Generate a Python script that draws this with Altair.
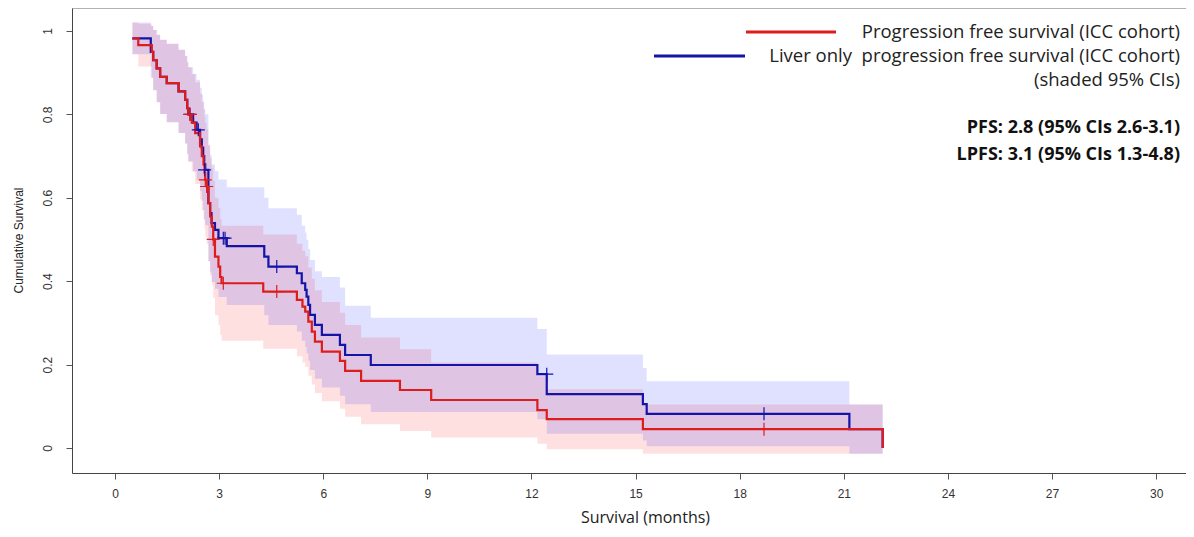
import altair as alt
import pandas as pd

# ---------------- data ----------------
# Progression free survival (red)
red_t = [0.50, 0.67, 1.06, 1.10, 1.20, 1.30, 1.49, 1.83, 2.02, 2.08, 2.11, 2.21, 2.31, 2.45, 2.50,
         2.55, 2.58, 2.60, 2.64, 2.69, 2.74, 2.79, 2.83, 2.88, 2.98, 3.03, 3.07, 4.27, 5.24, 5.40,
         5.48, 5.57, 5.67, 5.76, 5.96, 6.48, 6.63, 7.09, 8.21, 9.11, 12.17, 12.44, 15.21, 22.12]
red_s = [0.982, 0.966, 0.950, 0.930, 0.910, 0.890, 0.875, 0.855, 0.835, 0.815, 0.800, 0.780, 0.755,
         0.723, 0.700, 0.680, 0.660, 0.643, 0.627, 0.587, 0.555, 0.531, 0.500, 0.459, 0.435, 0.410,
         0.395, 0.375, 0.355, 0.339, 0.327, 0.303, 0.279, 0.255, 0.231, 0.209, 0.185, 0.161, 0.139,
         0.115, 0.091, 0.069, 0.045, 0.045]
red_lo = [0.944, 0.915, 0.888, 0.858, 0.829, 0.801, 0.781, 0.755, 0.730, 0.705, 0.687, 0.663, 0.633,
          0.596, 0.570, 0.548, 0.526, 0.507, 0.490, 0.448, 0.415, 0.390, 0.359, 0.318, 0.295, 0.271,
          0.257, 0.238, 0.220, 0.205, 0.194, 0.173, 0.152, 0.132, 0.112, 0.094, 0.075, 0.057, 0.041,
          0.025, 0.010, -0.003, -0.014, -0.014]
red_hi = [1.020, 1.017, 1.012, 1.002, 0.991, 0.979, 0.969, 0.955, 0.940, 0.925, 0.913, 0.897, 0.877,
          0.850, 0.830, 0.812, 0.794, 0.779, 0.764, 0.726, 0.695, 0.672, 0.641, 0.600, 0.575, 0.549,
          0.533, 0.512, 0.490, 0.473, 0.460, 0.433, 0.406, 0.378, 0.350, 0.324, 0.295, 0.265, 0.237,
          0.205, 0.172, 0.141, 0.104, 0.104]
red_end_t = 22.12
red_end_s = 0.0
red_cens_t = [2.16, 2.60, 2.64, 2.83, 3.12, 4.66, 18.70]
red_cens_s = [0.800, 0.643, 0.627, 0.500, 0.395, 0.375, 0.045]

# Liver only progression free survival (blue)
blue_t = [0.50, 1.03, 1.10, 1.20, 1.30, 1.49, 1.83, 2.02, 2.08, 2.11, 2.25, 2.35, 2.45, 2.50, 2.54,
          2.57, 2.60, 2.69, 2.74, 2.78, 2.88, 2.98, 3.22, 4.30, 4.42, 5.24, 5.38, 5.48, 5.52, 5.57,
          5.62, 5.76, 5.96, 6.48, 6.63, 7.37, 12.17, 12.44, 15.21, 15.32, 21.16, 22.12]
blue_s = [0.982, 0.950, 0.930, 0.910, 0.890, 0.875, 0.855, 0.835, 0.815, 0.800, 0.780, 0.763, 0.740,
          0.720, 0.700, 0.680, 0.667, 0.587, 0.563, 0.539, 0.523, 0.503, 0.484, 0.459, 0.435, 0.419,
          0.395, 0.379, 0.363, 0.343, 0.319, 0.295, 0.271, 0.247, 0.223, 0.199, 0.177, 0.129, 0.105,
          0.082, 0.045, 0.045]
blue_lo = [0.944, 0.888, 0.858, 0.829, 0.801, 0.781, 0.755, 0.730, 0.705, 0.687, 0.663, 0.643, 0.616,
           0.593, 0.570, 0.548, 0.534, 0.448, 0.423, 0.398, 0.382, 0.362, 0.343, 0.318, 0.295, 0.279,
           0.257, 0.242, 0.227, 0.209, 0.187, 0.166, 0.145, 0.125, 0.105, 0.086, 0.069, 0.034, 0.018,
           0.004, -0.014, -0.014]
blue_hi = [1.020, 1.012, 1.002, 0.991, 0.979, 0.969, 0.955, 0.940, 0.925, 0.913, 0.897, 0.883, 0.864,
           0.847, 0.830, 0.812, 0.800, 0.726, 0.703, 0.680, 0.664, 0.644, 0.625, 0.600, 0.575, 0.559,
           0.533, 0.516, 0.499, 0.477, 0.451, 0.424, 0.410, 0.385, 0.341, 0.312, 0.285, 0.224, 0.192,
           0.160, 0.104, 0.104]
blue_end_t = 22.12
blue_end_s = 0.0
blue_cens_t = [2.16, 2.40, 2.58, 3.12, 3.17, 4.66, 12.44, 18.70]
blue_cens_s = [0.800, 0.763, 0.667, 0.503, 0.503, 0.435, 0.177, 0.082]

x_ticks = [0, 3, 6, 9, 12, 15, 18, 21, 24, 27, 30]
y_ticks = [0, 0.2, 0.4, 0.6, 0.8, 1]

legend_lines = ["Progression free survival (ICC cohort)",
                "Liver only\u00a0 progression free survival (ICC cohort)",
                "(shaded 95% CIs)"]
stat_lines = ["PFS: 2.8 (95% CIs 2.6-3.1)", "LPFS: 3.1 (95% CIs 1.3-4.8)"]

# ---------------- chart ----------------
W, H = 1114, 465
LEFT, TOP = 72, 8
RED = "#dd1c1c"
BLUE = "#1414a8"
FONT = "Open Sans"

xs = alt.Scale(domain=[-1.24, 30.86], nice=False, zero=False)
ys = alt.Scale(domain=[-0.06, 1.055], nice=False, zero=False)

red_band_df = pd.DataFrame({"t": red_t, "lo": red_lo, "hi": red_hi})
blue_band_df = pd.DataFrame({"t": blue_t, "lo": blue_lo, "hi": blue_hi})
red_line_df = pd.DataFrame({"t": red_t + [red_end_t], "s": red_s + [red_end_s]})
blue_line_df = pd.DataFrame({"t": blue_t + [blue_end_t], "s": blue_s + [blue_end_s]})
red_c_df = pd.DataFrame({"t": red_cens_t, "s": red_cens_s})
blue_c_df = pd.DataFrame({"t": blue_cens_t, "s": blue_cens_s})

x_axis = alt.Axis(values=x_ticks, grid=False, domain=True, domainColor="#444", tickColor="#555",
                  tickSize=6, labelFont="Liberation Sans", labelFontSize=12, labelColor="#333",
                  labelPadding=9, title="Survival (months)", titleFont=FONT, titleFontSize=16,
                  titleFontWeight="normal", titleColor="#222", titleX=573, titleY=36,
                  titleBaseline="top", titleAnchor="start", titleAlign="center")
y_axis = alt.Axis(values=y_ticks, format=".1~f", grid=False, domain=True, domainColor="#444",
                  tickColor="#555", tickSize=6, labelFont="Liberation Sans", labelFontSize=12,
                  labelColor="#333", labelAngle=270, labelAlign="center", labelBaseline="bottom",
                  labelPadding=12, title="Cumulative Survival", titleFont="Liberation Sans",
                  titleFontSize=12, titleFontWeight="normal", titleColor="#222", titleAngle=270,
                  titleX=-54, titleY=232, titleAlign="center", titleBaseline="middle")

band_r = alt.Chart(red_band_df).mark_area(interpolate="step-after", color="#ff0000", opacity=0.12).encode(
    x=alt.X("t:Q", scale=xs, axis=x_axis),
    y=alt.Y("lo:Q", scale=ys, axis=y_axis),
    y2="hi:Q")
band_b = alt.Chart(blue_band_df).mark_area(interpolate="step-after", color="#0000ff", opacity=0.12).encode(
    x=alt.X("t:Q", scale=xs), y=alt.Y("lo:Q", scale=ys), y2="hi:Q")

line_b = alt.Chart(blue_line_df).mark_line(interpolate="step-after", color=BLUE, strokeWidth=2.2).encode(
    x=alt.X("t:Q", scale=xs), y=alt.Y("s:Q", scale=ys), order="t:Q")
line_r = alt.Chart(red_line_df).mark_line(interpolate="step-after", color=RED, strokeWidth=2.2).encode(
    x=alt.X("t:Q", scale=xs), y=alt.Y("s:Q", scale=ys), order="t:Q")

plus = "M-1,0L1,0M0,-1L0,1"
cens_b = alt.Chart(blue_c_df).mark_point(shape=plus, filled=False, color=BLUE, strokeWidth=1.2,
                                          size=170, opacity=1).encode(
    x=alt.X("t:Q", scale=xs), y=alt.Y("s:Q", scale=ys))
cens_r = alt.Chart(red_c_df).mark_point(shape=plus, filled=False, color=RED, strokeWidth=1.2,
                                         size=170, opacity=1).encode(
    x=alt.X("t:Q", scale=xs), y=alt.Y("s:Q", scale=ys))

one = alt.Data(values=[{}])
top_rule = alt.Chart(one).mark_rule(color="#666", strokeWidth=1).encode(
    x=alt.value(0), x2=alt.value(W), y=alt.value(0))

leg_red = alt.Chart(one).mark_rule(color=RED, strokeWidth=3).encode(
    x=alt.value(746 - LEFT), x2=alt.value(836 - LEFT), y=alt.value(32 - TOP))
leg_blue = alt.Chart(one).mark_rule(color=BLUE, strokeWidth=3).encode(
    x=alt.value(654 - LEFT), x2=alt.value(745 - LEFT), y=alt.value(56 - TOP))

texts = []
for txt, py in zip(legend_lines, [32, 56, 80]):
    texts.append(alt.Chart(one).mark_text(text=txt, font=FONT, fontSize=18.5, align="right",
                                          baseline="middle", color="#222").encode(
        x=alt.value(1180 - LEFT), y=alt.value(py - TOP)))
for txt, py in zip(stat_lines, [128, 155]):
    texts.append(alt.Chart(one).mark_text(text=txt, font=FONT, fontSize=18, fontWeight="bold",
                                          align="right", baseline="middle", color="#111").encode(
        x=alt.value(1180 - LEFT), y=alt.value(py - TOP)))

chart = alt.layer(band_r, band_b, line_b, line_r, cens_b, cens_r, top_rule, leg_red, leg_blue,
                  *texts).properties(
    width=W, height=H,
    autosize=alt.AutoSizeParams(type="none"),
    padding={"left": LEFT - 8, "top": TOP - 8, "right": 0, "bottom": 56},
    background="white",
).configure_view(stroke=None)

chart.save("out.html", embed_options={"renderer": "svg", "actions": False})
